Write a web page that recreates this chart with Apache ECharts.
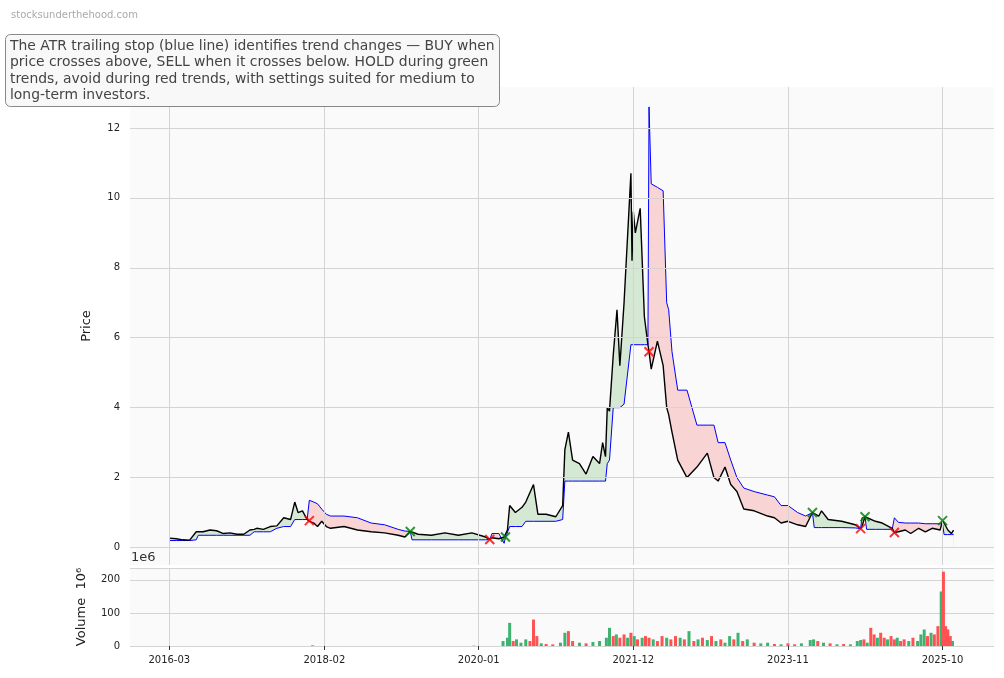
<!DOCTYPE html>
<html>
<head>
<meta charset="utf-8">
<script src="https://cdn.jsdelivr.net/npm/echarts@6/dist/echarts.min.js"></script>
<style>html,body{margin:0;padding:0;background:#fff}#main{width:1004px;height:678px}</style>
</head>
<body>
<div id="main"></div>
<script>
// price + ATR trailing stop
const dates = ['2016-03-01','2016-04-01','2016-05-01','2016-06-01','2016-07-01','2016-07-10','2016-08-01','2016-09-01','2016-10-01','2016-11-01','2016-12-01','2017-01-01','2017-02-01','2017-03-01','2017-03-20','2017-04-01','2017-05-01','2017-06-01','2017-07-01','2017-08-01','2017-09-01','2017-09-20','2017-10-05','2017-10-25','2017-11-15','2017-11-25','2017-12-15','2018-01-01','2018-01-20','2018-02-10','2018-03-01','2018-05-01','2018-07-01','2018-09-01','2018-11-01','2019-01-01','2019-02-01','2019-02-25','2019-03-05','2019-04-01','2019-06-01','2019-08-01','2019-10-01','2019-12-01','2020-02-01','2020-02-20','2020-03-01','2020-04-01','2020-04-25','2020-05-01','2020-05-10','2020-05-20','2020-06-15','2020-07-15','2020-08-01','2020-09-05','2020-09-25','2020-11-01','2020-12-15','2021-01-15','2021-01-25','2021-02-10','2021-03-01','2021-04-01','2021-05-01','2021-06-01','2021-07-01','2021-07-15','2021-07-28','2021-08-05','2021-08-15','2021-09-01','2021-09-18','2021-10-01','2021-10-20','2021-11-20','2021-11-25','2021-12-01','2021-12-10','2022-01-01','2022-01-20','2022-02-05','2022-02-10','2022-02-20','2022-03-20','2022-04-15','2022-05-01','2022-05-10','2022-05-25','2022-06-20','2022-08-01','2022-09-15','2022-11-01','2022-12-01','2022-12-20','2023-01-20','2023-02-15','2023-03-15','2023-04-15','2023-06-01','2023-08-01','2023-09-01','2023-10-01','2023-11-01','2023-12-15','2024-01-20','2024-02-20','2024-02-28','2024-03-20','2024-04-01','2024-05-01','2024-07-01','2024-09-01','2024-09-25','2024-10-01','2024-10-15','2024-10-22','2024-12-01','2025-01-01','2025-02-15','2025-02-25','2025-03-15','2025-04-15','2025-05-10','2025-06-15','2025-07-15','2025-08-15','2025-09-20','2025-10-01','2025-10-08','2025-10-25','2025-11-10','2025-11-20'];
const price = [0.27,0.25,0.22,0.21,0.45,0.42,0.45,0.50,0.48,0.40,0.42,0.38,0.38,0.50,0.52,0.55,0.52,0.60,0.62,0.85,0.80,1.30,1.00,1.05,0.80,0.75,0.70,0.60,0.75,0.60,0.55,0.60,0.50,0.45,0.42,0.35,0.30,0.46,0.45,0.38,0.35,0.42,0.35,0.42,0.30,0.23,0.28,0.25,0.30,0.32,0.50,1.20,1.00,1.15,1.30,1.80,0.95,0.95,0.88,1.20,2.80,3.30,2.50,2.40,2.10,2.60,2.40,3.00,2.60,4.00,3.90,5.50,6.80,5.20,7.00,10.70,8.20,9.60,9.00,9.70,6.60,5.80,5.60,5.10,5.90,5.20,4.00,3.80,3.30,2.50,2.00,2.30,2.70,2.00,1.90,2.30,1.80,1.60,1.10,1.05,0.90,0.85,0.70,0.75,0.65,0.60,1.00,1.00,0.90,1.05,0.80,0.75,0.65,0.54,0.60,0.88,0.85,0.75,0.70,0.55,0.43,0.45,0.50,0.40,0.55,0.45,0.55,0.50,0.77,0.70,0.50,0.40,0.50];
const stop = [0.20,0.20,0.20,0.20,0.22,0.35,0.35,0.35,0.35,0.35,0.35,0.35,0.35,0.35,0.45,0.45,0.45,0.45,0.55,0.60,0.60,0.80,0.80,0.80,0.80,1.35,1.30,1.25,1.10,0.95,0.90,0.90,0.85,0.70,0.65,0.52,0.47,0.46,0.22,0.22,0.22,0.22,0.22,0.22,0.22,0.23,0.40,0.40,0.12,0.28,0.28,0.60,0.60,0.60,0.75,0.75,0.75,0.75,0.75,0.80,1.90,1.90,1.90,1.90,1.90,1.90,1.90,1.90,1.90,2.40,2.50,4.00,4.00,4.00,4.10,5.80,5.80,5.80,5.80,5.80,5.80,5.80,12.60,10.40,10.30,10.20,7.00,6.80,5.60,4.50,4.50,3.50,3.50,3.50,3.00,3.00,2.50,2.00,1.70,1.60,1.50,1.45,1.20,1.20,1.00,0.90,1.00,0.57,0.57,0.57,0.57,0.57,0.56,0.54,0.85,0.88,0.52,0.52,0.52,0.52,0.85,0.72,0.70,0.70,0.70,0.68,0.68,0.68,0.68,0.37,0.37,0.37,0.37];

const buyDates = ['2019-02-25','2020-05-01','2024-02-20','2024-10-15','2025-10-01'];
const buyPrices = [0.46,0.30,1.00,0.88,0.77];
const sellDates = ['2017-11-25','2020-02-20','2022-02-10','2024-09-25','2025-02-25'];
const sellPrices = [0.77,0.23,5.60,0.54,0.43];

// volume in millions, up = 1 green, 0 red
const volDates = ['2017-12-10','2019-12-10','2020-04-20','2020-05-10','2020-05-20','2020-06-05','2020-06-20','2020-07-10','2020-08-01','2020-08-20','2020-09-05','2020-09-20','2020-10-10','2020-11-01','2020-12-01','2021-01-05','2021-01-25','2021-02-10','2021-03-01','2021-04-01','2021-05-01','2021-06-01','2021-07-01','2021-08-01','2021-08-15','2021-09-01','2021-09-15','2021-10-01','2021-10-20','2021-11-05','2021-11-20','2021-12-05','2021-12-20','2022-01-10','2022-01-25','2022-02-10','2022-03-01','2022-03-20','2022-04-10','2022-05-01','2022-05-20','2022-06-10','2022-07-01','2022-07-20','2022-08-10','2022-09-01','2022-09-20','2022-10-10','2022-11-01','2022-11-20','2022-12-10','2023-01-01','2023-01-20','2023-02-10','2023-03-01','2023-03-20','2023-04-10','2023-05-01','2023-06-01','2023-07-01','2023-08-01','2023-09-01','2023-10-01','2023-11-01','2023-12-01','2024-01-01','2024-02-10','2024-02-25','2024-03-15','2024-04-10','2024-05-10','2024-06-10','2024-07-10','2024-08-10','2024-09-10','2024-09-25','2024-10-10','2024-10-25','2024-11-10','2024-11-25','2024-12-10','2024-12-25','2025-01-10','2025-01-25','2025-02-10','2025-02-25','2025-03-10','2025-03-25','2025-04-10','2025-05-01','2025-05-20','2025-06-10','2025-06-25','2025-07-10','2025-07-25','2025-08-10','2025-08-25','2025-09-10','2025-09-25','2025-10-05','2025-10-15','2025-10-25','2025-11-05','2025-11-15'];
const volValues = [2,1,15,25,70,15,20,10,20,15,80,30,8,6,5,10,40,45,15,10,8,12,15,25,55,30,35,25,35,25,40,30,20,25,30,25,20,15,30,25,20,30,25,20,45,15,20,25,18,30,15,20,10,30,20,40,15,20,10,8,10,6,5,8,5,8,18,20,15,10,8,5,6,5,15,18,20,10,55,35,25,40,25,20,30,20,25,15,20,15,25,15,35,50,30,40,35,60,165,225,60,50,30,15];
const volUp = [0,0,1,1,1,0,1,1,1,0,0,0,1,0,0,1,1,0,0,1,0,1,1,1,1,0,1,0,0,1,0,1,0,1,0,0,1,0,0,1,0,0,1,0,1,0,1,0,1,0,1,0,1,1,0,1,0,1,0,1,1,0,1,0,0,1,1,1,0,1,0,1,0,1,1,1,0,1,0,0,1,0,0,1,0,0,1,0,0,1,0,1,1,1,0,1,0,0,1,0,0,0,0,1];

const xTicks = ['2016-03-01','2018-02-01','2020-01-01','2021-12-01','2023-11-01','2025-10-01'];
const priceTicks = [0,2,4,6,8,10,12];

const ts = d => new Date(d + 'T00:00:00Z').getTime();
const xTickTs = xTicks.map(ts);
const pricePts = dates.map((d, i) => [ts(d), price[i]]);
const stopPts = dates.map((d, i) => [ts(d), stop[i]]);
const minPts = dates.map((d, i) => [ts(d), Math.min(price[i], stop[i])]);
const GREEN = '#3cb371', RED = '#ff5252', BG = '#fafafa', GRID = '#d4d4d4';
const fmtMonth = v => { const d = new Date(v); return d.getUTCFullYear() + '-' + String(d.getUTCMonth() + 1).padStart(2, '0'); };

const chart = echarts.init(document.getElementById('main'));
const xBase = {
    type: 'value',
    min: ts('2015-09-05'),
    max: ts('2026-05-22'),
    axisLine: { show: false },
    splitLine: { show: false }
};

chart.setOption({
    backgroundColor: '#fff',
    animation: false,
    title: [
        {
            text: 'stocksunderthehood.com', left: 6, top: 5,
            textStyle: { fontSize: 10, color: '#aaa', fontWeight: 'normal', fontFamily: 'DejaVu Sans' }
        },
        {
            text: 'The ATR trailing stop (blue line) identifies trend changes — BUY when\nprice crosses above, SELL when it crosses below. HOLD during green\ntrends, avoid during red trends, with settings suited for medium to\nlong-term investors.',
            left: 5, top: 34, padding: [4, 5, 3, 5],
            backgroundColor: '#f8f8f8', borderColor: '#888', borderWidth: 1, borderRadius: 5,
            textStyle: { fontSize: 13.9, lineHeight: 16.5, color: '#444', fontWeight: 'normal', fontFamily: 'DejaVu Sans' }
        }
    ],
    graphic: [{
        type: 'text', left: 131, top: 551, z: 10,
        style: { text: '1e6', fontSize: 13, fill: '#333', fontFamily: 'DejaVu Sans' }
    }],
    grid: [
        { left: 130, right: 10, top: 87, height: 478, show: true, backgroundColor: BG, borderWidth: 0 },
        { left: 130, right: 10, top: 568, height: 78, show: true, backgroundColor: BG, borderWidth: 0 }
    ],
    xAxis: [
        Object.assign({}, xBase, { gridIndex: 0, axisLabel: { show: false }, axisTick: { show: false } }),
        Object.assign({}, xBase, {
            gridIndex: 1,
            splitLine: { show: true, lineStyle: { color: GRID } },
            axisTick: { show: true, customValues: xTickTs, length: 4, lineStyle: { color: '#333' } },
            axisLabel: { customValues: xTickTs, fontSize: 10, color: '#222', margin: 9, fontFamily: 'DejaVu Sans', formatter: fmtMonth }
        })
    ],
    yAxis: [
        {
            gridIndex: 0, type: 'value', min: -0.5, max: 13.17,
            name: 'Price', nameLocation: 'middle', nameGap: 37,
            nameTextStyle: { fontSize: 13, color: '#222', fontFamily: 'DejaVu Sans' },
            axisLine: { show: false }, axisTick: { show: false }, splitLine: { show: false },
            axisLabel: { customValues: priceTicks, fontSize: 10, color: '#222', margin: 10, fontFamily: 'DejaVu Sans' }
        },
        {
            gridIndex: 1, type: 'value', min: 0, max: 236, interval: 100,
            name: 'Volume  10⁶', nameLocation: 'middle', nameGap: 42,
            nameTextStyle: { fontSize: 13, color: '#222', fontFamily: 'DejaVu Sans' },
            axisLine: { show: false }, axisTick: { show: false },
            splitLine: { lineStyle: { color: GRID } },
            axisLabel: { fontSize: 10, color: '#222', margin: 10, fontFamily: 'DejaVu Sans',
                formatter: v => (v > 230 ? '' : v) }
        }
    ],
    series: [
        { name: 'greenFill', type: 'line', data: pricePts, symbol: 'none', lineStyle: { width: 0 },
          areaStyle: { color: '#d4e8d4', opacity: 1 }, silent: true },
        { name: 'redFill', type: 'line', data: stopPts, symbol: 'none', lineStyle: { width: 0 },
          areaStyle: { color: '#f9d4d4', opacity: 1 }, silent: true },
        { name: 'mask', type: 'line', data: minPts, symbol: 'none', lineStyle: { width: 0 },
          areaStyle: { color: BG, opacity: 1 }, silent: true,
          markLine: {
              silent: true, symbol: 'none', label: { show: false },
              lineStyle: { color: GRID, type: 'solid', width: 1 },
              data: priceTicks.map(v => ({ yAxis: v })).concat(xTickTs.map(t => ({ xAxis: t })))
          } },
        { name: 'Stop', type: 'line', data: stopPts, symbol: 'none', lineStyle: { color: '#0000ff', width: 1 } },
        { name: 'Price', type: 'line', data: pricePts, symbol: 'none', lineStyle: { color: '#000', width: 1.4 } },
        { name: 'Buy', type: 'scatter', z: 10, data: buyDates.map((d, i) => [ts(d), buyPrices[i]]),
          symbol: 'path://M0,0L10,10M10,0L0,10', symbolSize: 9,
          itemStyle: { color: 'rgba(0,0,0,0)', borderColor: '#008000', borderWidth: 2 } },
        { name: 'Sell', type: 'scatter', z: 10, data: sellDates.map((d, i) => [ts(d), sellPrices[i]]),
          symbol: 'path://M0,0L10,10M0,10L10,0', symbolSize: 9,
          itemStyle: { color: 'rgba(0,0,0,0)', borderColor: '#ff0000', borderWidth: 2 } },
        { name: 'Volume', type: 'bar', xAxisIndex: 1, yAxisIndex: 1, barWidth: 3,
          data: volDates.map((d, i) => ({ value: [ts(d), volValues[i]], itemStyle: { color: volUp[i] ? GREEN : RED } })) }
    ]
});
</script>
</body>
</html>
